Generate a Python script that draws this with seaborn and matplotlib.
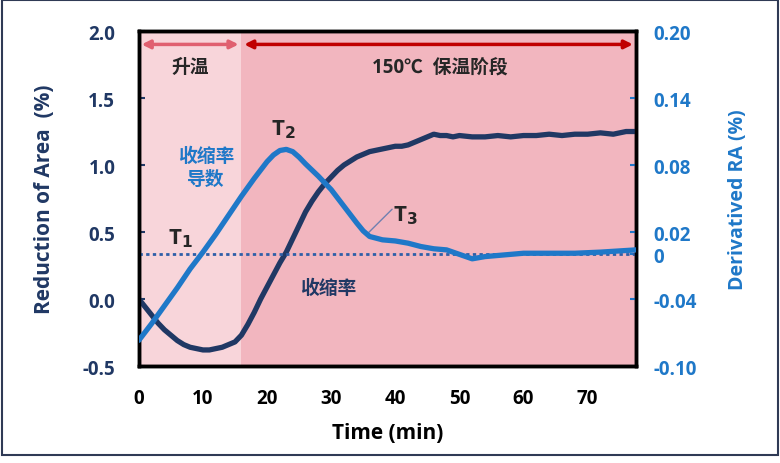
import numpy as np
import pandas as pd
import matplotlib
matplotlib.use("Agg")
import matplotlib.pyplot as plt
from matplotlib.patches import Rectangle
import seaborn as sns

# datos
time_ra = [0, 1, 2, 3, 4, 5, 6, 7, 8, 9, 10, 11, 12, 13, 14, 15, 16, 17, 18, 19, 20,
           21, 22, 23, 24, 25, 26, 27, 28, 29, 30, 31, 32, 33, 34, 35, 36, 37, 38,
           39, 40, 41, 42, 43, 44, 45, 46, 47, 48, 49, 50, 52, 54, 56, 58, 60, 62,
           64, 66, 68, 70, 72, 74, 76, 77.5]
ra = [0.00, -0.06, -0.12, -0.18, -0.23, -0.27, -0.31, -0.34, -0.36, -0.37, -0.38,
      -0.38, -0.37, -0.36, -0.34, -0.32, -0.27, -0.19, -0.10, 0.00, 0.09,
      0.18, 0.27, 0.35, 0.45, 0.55, 0.65, 0.73, 0.80, 0.86, 0.91, 0.96, 1.00,
      1.03, 1.06, 1.08, 1.10, 1.11, 1.12, 1.13, 1.14, 1.14, 1.15, 1.17, 1.19,
      1.21, 1.23, 1.22, 1.22, 1.21, 1.22, 1.21, 1.21, 1.22, 1.21, 1.22, 1.22,
      1.23, 1.22, 1.23, 1.23, 1.24, 1.23, 1.25, 1.25]

time_d = [0, 2, 4, 6, 8, 10, 12, 14, 16, 18, 20, 21, 22, 23, 24, 25, 26, 28, 30,
          32, 34, 35, 36, 38, 40, 42, 44, 46, 48, 50, 52, 54, 56, 58, 60, 64,
          68, 72, 77.5]
deriv = [-0.077, -0.062, -0.046, -0.030, -0.013, 0.002, 0.018, 0.035, 0.052,
         0.068, 0.083, 0.089, 0.093, 0.094, 0.092, 0.087, 0.081, 0.070, 0.058,
         0.043, 0.028, 0.021, 0.016, 0.013, 0.012, 0.010, 0.007, 0.005, 0.004,
         0.000, -0.004, -0.002, -0.001, 0.000, 0.001, 0.001, 0.001, 0.002, 0.004]

left_ticks = [-0.5, 0.0, 0.5, 1.0, 1.5, 2.0]
right_ticks = [-0.10, -0.04, 0, 0.02, 0.08, 0.14, 0.20]
right_labels = ["-0.10", "-0.04", "0", "0.02", "0.08", "0.14", "0.20"]
x_ticks = [0, 10, 20, 30, 40, 50, 60, 70]

navy = "#203864"
blue = "#1F78C8"

sns.set_style("white")
plt.rcParams['font.family'] = ['Open Sans', 'Noto Sans CJK SC', 'DejaVu Sans']
plt.rcParams['font.weight'] = 'bold'

df_ra = pd.DataFrame({"t": time_ra, "ra": ra})
df_d = pd.DataFrame({"t": time_d, "d": deriv})

fig = plt.figure(figsize=(7.8, 4.64), dpi=100)
ax = fig.add_axes([0.178, 0.209, 0.637, 0.722])
ax2 = ax.twinx()

# zonas de fondo
ax.axvspan(0, 16, color="#F8D5DA", zorder=0, lw=0)
ax.axvspan(16, 77.5, color="#F2B6BF", zorder=0, lw=0)

sns.lineplot(data=df_ra, x="t", y="ra", ax=ax, color=navy, lw=3.8, zorder=3)
sns.lineplot(data=df_d, x="t", y="d", ax=ax2, color=blue, lw=3.8, zorder=3)
ax2.axhline(0, color="#2E5FA8", ls=(0, (1.2, 1.2)), lw=2)

ax.set_xlim(0, 77.5)
ax.set_ylim(-0.5, 2.0)
ax2.set_ylim(-0.10, 0.20)
ax.set_xticks(x_ticks)
ax.set_yticks(left_ticks)
ax.set_yticklabels([f"{v:.1f}" for v in left_ticks])
ax2.set_yticks(right_ticks)
ax2.set_yticklabels(right_labels)

ax.tick_params(axis="x", direction="in", length=4, width=1.5, labelsize=13.5, pad=16, colors="black")
ax.tick_params(axis="y", direction="in", length=4, width=1.5, labelsize=13.5, pad=17, colors=navy)
ax2.tick_params(axis="y", direction="in", length=4, width=1.5, labelsize=13.5, pad=13, colors=blue)
for lab in ax.get_xticklabels() + ax.get_yticklabels() + ax2.get_yticklabels():
    lab.set_fontweight("bold")

ax.set_xlabel("Time (min)", fontsize=15, fontweight="bold", color="black", labelpad=10)
ax.set_ylabel("Reduction of Area  (%)", fontsize=15, fontweight="bold", color=navy, labelpad=20)
ax2.set_ylabel("Derivatived RA (%)", fontsize=14, fontweight="bold", color=blue, labelpad=22)

for a in (ax, ax2):
    for s in a.spines.values():
        s.set_linewidth(2.5)
        s.set_color("black")
ax2.patch.set_visible(False)

# flechas de etapas
ax.annotate("", xy=(0, 1.9), xytext=(16, 1.9),
            arrowprops=dict(arrowstyle="<|-|>", color="#E06070", lw=2.5, mutation_scale=12))
ax.annotate("", xy=(16, 1.9), xytext=(77.5, 1.9),
            arrowprops=dict(arrowstyle="<|-|>", color="#C00000", lw=2.5, mutation_scale=12))
ax.text(8, 1.73, "升温", ha="center", va="center", fontsize=13.5, fontweight="bold")
ax.text(47, 1.73, "150℃  保温阶段", ha="center", va="center", fontsize=13.5, fontweight="bold")

# etiquetas
ax.text(6.5, 0.46, "T$_{1}$", fontsize=16, ha="center", va="center")
ax.text(22.5, 1.27, "T$_{2}$", fontsize=16, ha="center", va="center")
ax.text(41.5, 0.63, "T$_{3}$", fontsize=16, ha="center", va="center")
ax.plot([35.5, 39.5], [0.48, 0.67], color="#7080B0", lw=1)
ax.text(10.5, 0.98, "收缩率\n导数", fontsize=13.5, color=blue, ha="center", va="center",
        linespacing=1.2)
ax.text(29.5, 0.08, "收缩率", fontsize=13.5, color=navy, ha="center", va="center")

fig.patches.append(Rectangle((0.002, 0.017), 0.995, 0.981, transform=fig.transFigure,
                             fill=False, edgecolor="#2F3A55", lw=1.5))

fig.savefig("out.png", dpi=100)
